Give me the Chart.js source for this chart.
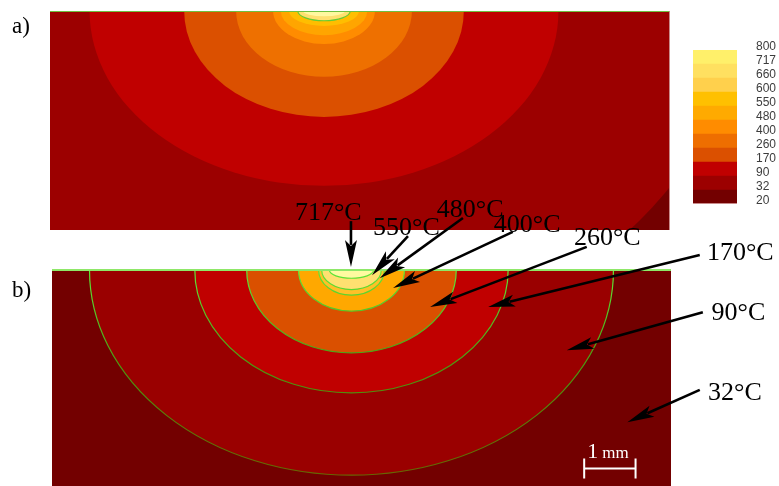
<!DOCTYPE html>
<html>
<head>
<meta charset="utf-8">
<script src="https://cdn.jsdelivr.net/npm/chart.js@4.4.1/dist/chart.umd.min.js"></script>
<style>
  html, body { margin: 0; padding: 0; background: #fff; }
  #wrap { position: relative; width: 779px; height: 486px; }
  #wrap canvas { position: absolute; left: 0; top: 0; }
</style>
</head>
<body>
<div id="wrap">
  <canvas id="panelA" width="779" height="486"></canvas>
  <canvas id="scaleBar" width="779" height="486"></canvas>
  <canvas id="panelB" width="779" height="486"></canvas>
</div>
<script>
// colour scale (°C), bottom to top
const barLevels = [20, 32, 90, 170, 260, 400, 480, 550, 600, 660, 717, 800];
const barColors = ['#730000', '#9c0000', '#c00000', '#db5000', '#ee6e00', '#ff8c00',
                   '#ffaa00', '#ffc000', '#ffd04c', '#ffe060', '#fff06a'];

// a) isotherms, half width and depth in mm from the source
const isoA = [32, 90, 170, 260, 400, 480, 550, 660, 717];
const isoAWidth = [7.96, 4.56, 2.72, 1.71, 0.99, 0.84, 0.68, 0.51, 0.41];
const isoADepth = [6.40, 3.40, 2.06, 1.28, 0.64, 0.47, 0.29, 0.19, 0.10];
const isoAColors = ['#9c0000', '#c00000', '#db5000', '#ee7000', '#ff8c00',
                    '#ffa500', '#ffbe00', '#ffe070', '#fff8a0'];

// b) isotherms
const isoB = [32, 90, 170, 260, 480, 550, 717];
const isoBWidth = [5.10, 3.05, 2.04, 1.03, 0.64, 0.58, 0.43];
const isoBDepth = [3.99, 2.39, 1.61, 0.80, 0.49, 0.38, 0.16];
const isoBColors = ['#9a0000', '#c00000', '#da5000', '#ffa800', '#ffc028', '#ffe070', '#fffaa0'];

// callouts on b): label, text anchor, arrow tail, arrow tip (mm)
const callouts = [
  { text: '717°C', tx: -1.10, ty: -0.97, x0: -0.01, y0: -0.95, x1: -0.01, y1: -0.06 },
  { text: '550°C', tx: 0.42, ty: -0.68, x0: 1.10, y0: -0.66, x1: 0.40, y1: 0.10 },
  { text: '480°C', tx: 1.66, ty: -1.03, x0: 2.17, y0: -1.01, x1: 0.55, y1: 0.16 },
  { text: '400°C', tx: 2.77, ty: -0.74, x0: 3.14, y0: -0.74, x1: 0.81, y1: 0.35 },
  { text: '260°C', tx: 4.33, ty: -0.49, x0: 4.58, y0: -0.45, x1: 1.53, y1: 0.72 },
  { text: '170°C', tx: 6.92, ty: -0.19, x0: 6.78, y0: -0.29, x1: 2.66, y1: 0.72 },
  { text: '90°C',  tx: 7.01, ty: 0.97, x0: 6.84, y0: 0.82, x1: 4.19, y1: 1.56 },
  { text: '32°C',  tx: 6.94, ty: 2.53, x0: 6.78, y0: 2.33, x1: 5.37, y1: 2.96 }
];

const SERIF = '"Liberation Serif", "DejaVu Serif", serif';

function hiddenScales(xMin, xMax, yMax) {
  return {
    x: { type: 'linear', display: false, min: xMin, max: xMax },
    y: { type: 'linear', display: false, min: 0, max: yMax, reverse: true }
  };
}

// filled half-ellipses, outermost first
function drawIsotherms(chart, widths, depths, colors, bg, lineFor) {
  const { ctx, chartArea: a, scales: { x, y } } = chart;
  const cx = x.getPixelForValue(0), cy = y.getPixelForValue(0);
  ctx.save();
  ctx.beginPath();
  ctx.rect(a.left, a.top, a.width, a.height);
  ctx.clip();
  ctx.fillStyle = bg;
  ctx.fillRect(a.left, a.top, a.width, a.height);
  widths.forEach((w, i) => {
    const rx = x.getPixelForValue(w) - cx;
    const ry = y.getPixelForValue(depths[i]) - cy;
    ctx.beginPath();
    ctx.ellipse(cx, cy, rx, ry, 0, 0, Math.PI);
    ctx.closePath();
    ctx.fillStyle = colors[i];
    ctx.fill();
    const stroke = lineFor(i);
    if (stroke) {
      ctx.beginPath();
      ctx.ellipse(cx, cy, rx, ry, 0, 0, Math.PI);
      ctx.strokeStyle = stroke;
      ctx.lineWidth = 1.2;
      ctx.stroke();
    }
  });
  ctx.restore();
}

function arrow(ctx, x0, y0, x1, y1) {
  const ang = Math.atan2(y1 - y0, x1 - x0);
  const L = 27, W = 6;
  const c = Math.cos(ang), s = Math.sin(ang);
  const bx = x1 - L * c, by = y1 - L * s;
  ctx.beginPath();
  ctx.moveTo(x0, y0);
  ctx.lineTo(bx + 5 * c, by + 5 * s);
  ctx.lineWidth = 2.6;
  ctx.strokeStyle = '#000';
  ctx.stroke();
  ctx.beginPath();
  ctx.moveTo(x1, y1);
  ctx.lineTo(bx + W * s, by - W * c);
  ctx.lineTo(bx + 6 * c, by + 6 * s);
  ctx.lineTo(bx - W * s, by + W * c);
  ctx.closePath();
  ctx.fillStyle = '#000';
  ctx.fill();
}

// a) plan view
new Chart(document.getElementById('panelA'), {
  type: 'scatter',
  data: { datasets: [] },
  options: {
    responsive: false,
    animation: false,
    layout: { padding: { left: 50, top: 11, right: 109, bottom: 256 } },
    scales: hiddenScales(-5.33, 6.73, 4.26),
    plugins: { legend: { display: false }, tooltip: { enabled: false } }
  },
  plugins: [{
    id: 'isoA',
    beforeDatasetsDraw(chart) {
      drawIsotherms(chart, isoAWidth, isoADepth, isoAColors, '#730000',
        i => (isoA[i] === 660 ? '#66cc33' : null));
      const { ctx, chartArea: a } = chart;
      ctx.save();
      ctx.fillStyle = '#6fc040';
      ctx.fillRect(a.left, a.top, a.width, 1);
      ctx.fillStyle = '#c98a8a';
      ctx.fillRect(a.right - 1, a.top, 1, a.height);
      ctx.restore();
    }
  }]
});

// colour bar
new Chart(document.getElementById('scaleBar'), {
  type: 'bar',
  data: {
    labels: [''],
    datasets: barColors.map((col, i) => ({
      data: [[i, i + 1]],
      backgroundColor: col,
      borderWidth: 0,
      grouped: false,
      barPercentage: 1,
      categoryPercentage: 1
    }))
  },
  options: {
    responsive: false,
    animation: false,
    layout: { padding: { left: 693, top: 50, right: 0, bottom: 282 } },
    scales: {
      x: { display: false },
      y: {
        position: 'right',
        min: 0,
        max: barLevels.length - 1,
        grid: { display: false, drawTicks: false },
        border: { display: false },
        afterFit: s => { s.width = 42; },
        ticks: {
          stepSize: 1,
          autoSkip: false,
          padding: 19,
          labelOffset: -3,
          color: '#3c3c3c',
          font: { family: '"Liberation Sans", Arial, sans-serif', size: 12 },
          callback: v => barLevels[v]
        }
      }
    },
    plugins: { legend: { display: false }, tooltip: { enabled: false } }
  },
  plugins: [{
    id: 'barEdge',
    afterDraw(chart) {
      const { ctx, chartArea: a } = chart;
      ctx.save();
      ctx.fillStyle = '#c98a8a';
      ctx.fillRect(a.left, a.bottom - 1, a.width, 1);
      ctx.restore();
    }
  }]
});

// b) cross section with callouts
new Chart(document.getElementById('panelB'), {
  type: 'scatter',
  data: { datasets: [] },
  options: {
    responsive: false,
    animation: false,
    layout: { padding: { left: 52, top: 270, right: 108, bottom: 0 } },
    scales: hiddenScales(-5.83, 6.22, 4.20),
    plugins: { legend: { display: false }, tooltip: { enabled: false } }
  },
  plugins: [{
    id: 'isoB',
    beforeDatasetsDraw(chart) {
      const { ctx, chartArea: a } = chart;
      const g = ctx.createLinearGradient(0, a.top, 0, a.bottom);
      g.addColorStop(0, '#5ee838');
      g.addColorStop(0.45, '#4a9a10');
      g.addColorStop(1, '#6a6000');
      drawIsotherms(chart, isoBWidth, isoBDepth, isoBColors, '#730000', () => g);
      ctx.save();
      ctx.fillStyle = '#8ee868';
      ctx.fillRect(a.left, a.top - 1, a.width, 2);
      ctx.restore();
    },
    afterDraw(chart) {
      const { ctx, scales: { x, y } } = chart;
      ctx.save();
      // scale bar, 1 mm long
      const sx0 = x.getPixelForValue(4.53), sx1 = x.getPixelForValue(5.53);
      const sy = Math.round(y.getPixelForValue(3.85)) + 0.5;
      ctx.strokeStyle = '#fff';
      ctx.lineWidth = 2;
      ctx.beginPath();
      ctx.moveTo(sx0, sy); ctx.lineTo(sx1, sy);
      ctx.moveTo(sx0, sy - 10); ctx.lineTo(sx0, sy + 10);
      ctx.moveTo(sx1, sy - 10); ctx.lineTo(sx1, sy + 10);
      ctx.stroke();
      ctx.fillStyle = '#fff';
      ctx.textBaseline = 'alphabetic';
      ctx.textAlign = 'left';
      ctx.font = '22px ' + SERIF;
      ctx.fillText('1', sx0 + 3, sy - 11);
      ctx.font = '17px ' + SERIF;
      ctx.fillText('mm', sx0 + 18, sy - 11);

      callouts.forEach(c => {
        arrow(ctx, x.getPixelForValue(c.x0), y.getPixelForValue(c.y0),
              x.getPixelForValue(c.x1), y.getPixelForValue(c.y1));
      });
      ctx.fillStyle = '#000';
      ctx.font = '26px ' + SERIF;
      callouts.forEach(c => {
        ctx.fillText(c.text, x.getPixelForValue(c.tx), y.getPixelForValue(c.ty));
      });

      ctx.font = '23px ' + SERIF;
      ctx.fillText('a)', 12, 33);
      ctx.fillText('b)', 12, 297);
      ctx.restore();
    }
  }]
});
</script>
</body>
</html>
